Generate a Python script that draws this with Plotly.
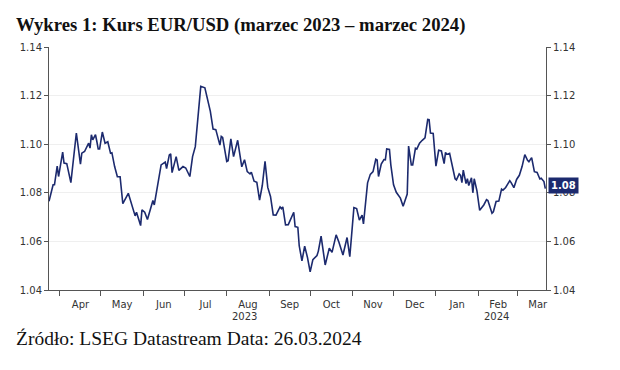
import plotly.graph_objects as go

title_text = "<b>Wykres 1: Kurs EUR/USD (marzec 2023 – marzec 2024)</b>"
source_text = "Źródło: LSEG Datastream Data: 26.03.2024"

dates = [
    "2023-03-24", "2023-03-25", "2023-03-27", "2023-03-28", "2023-03-30", "2023-03-31",
    "2023-04-03", "2023-04-04", "2023-04-06", "2023-04-09", "2023-04-13", "2023-04-16",
    "2023-04-17", "2023-04-19", "2023-04-22", "2023-04-23", "2023-04-24", "2023-04-25",
    "2023-04-27", "2023-04-28", "2023-04-29", "2023-04-30",
    "2023-05-02", "2023-05-04", "2023-05-06", "2023-05-08", "2023-05-09", "2023-05-11",
    "2023-05-13", "2023-05-15", "2023-05-17", "2023-05-21", "2023-05-23", "2023-05-26",
    "2023-05-27", "2023-05-30", "2023-05-31",
    "2023-06-02", "2023-06-04", "2023-06-08", "2023-06-09", "2023-06-14", "2023-06-17",
    "2023-06-18", "2023-06-20", "2023-06-21", "2023-06-22", "2023-06-25", "2023-06-27",
    "2023-06-30",
    "2023-07-02", "2023-07-05", "2023-07-07", "2023-07-09", "2023-07-13", "2023-07-15",
    "2023-07-16", "2023-07-20", "2023-07-22", "2023-07-24", "2023-07-27", "2023-07-28",
    "2023-07-29",
    "2023-08-01", "2023-08-02", "2023-08-04", "2023-08-06", "2023-08-09", "2023-08-12",
    "2023-08-14", "2023-08-16", "2023-08-18", "2023-08-19", "2023-08-21", "2023-08-23",
    "2023-08-25", "2023-08-27", "2023-08-29", "2023-08-31",
    "2023-09-02", "2023-09-04", "2023-09-06", "2023-09-09", "2023-09-10", "2023-09-11",
    "2023-09-13", "2023-09-15", "2023-09-19", "2023-09-20", "2023-09-22", "2023-09-23",
    "2023-09-25", "2023-09-27", "2023-09-29",
    "2023-10-01", "2023-10-03", "2023-10-06", "2023-10-07", "2023-10-09", "2023-10-12",
    "2023-10-15", "2023-10-17", "2023-10-20", "2023-10-22", "2023-10-25", "2023-10-28",
    "2023-10-30",
    "2023-11-02", "2023-11-04", "2023-11-06", "2023-11-08", "2023-11-09", "2023-11-12",
    "2023-11-14", "2023-11-16", "2023-11-18", "2023-11-19", "2023-11-20", "2023-11-22",
    "2023-11-24", "2023-11-25", "2023-11-26", "2023-11-28", "2023-11-29",
    "2023-12-01", "2023-12-03", "2023-12-06", "2023-12-08", "2023-12-10", "2023-12-11",
    "2023-12-12", "2023-12-14", "2023-12-15", "2023-12-17", "2023-12-18", "2023-12-20",
    "2023-12-22", "2023-12-24", "2023-12-26", "2023-12-27", "2023-12-28", "2023-12-30",
    "2024-01-01", "2024-01-03", "2024-01-05", "2024-01-07", "2024-01-08", "2024-01-09",
    "2024-01-11", "2024-01-13", "2024-01-15", "2024-01-16", "2024-01-18", "2024-01-19",
    "2024-01-20", "2024-01-21", "2024-01-23", "2024-01-24", "2024-01-25", "2024-01-27",
    "2024-01-28", "2024-01-29", "2024-01-31",
    "2024-02-02", "2024-02-05", "2024-02-07", "2024-02-08", "2024-02-11", "2024-02-12",
    "2024-02-14", "2024-02-16", "2024-02-18", "2024-02-19", "2024-02-21", "2024-02-24",
    "2024-02-25", "2024-02-27", "2024-02-29",
    "2024-03-02", "2024-03-04", "2024-03-06", "2024-03-08", "2024-03-09", "2024-03-11",
    "2024-03-13", "2024-03-15", "2024-03-17", "2024-03-18", "2024-03-20", "2024-03-21",
]

eurusd = [
    1.0765, 1.0790, 1.0833, 1.0833, 1.0910, 1.0867,
    1.0967, 1.0922, 1.0920, 1.0842, 1.1046, 1.0918,
    1.0963, 1.0970, 1.1004, 1.0984, 1.1039, 1.1018,
    1.1039, 1.1011, 1.0980, 1.0980,
    1.1050, 1.1004, 1.1010, 1.0963, 1.0965, 1.0908,
    1.0866, 1.0866, 1.0755, 1.0798, 1.0764, 1.0705,
    1.0720, 1.0665, 1.0730,
    1.0720, 1.0690, 1.0768, 1.0750, 1.0915, 1.0926,
    1.0900, 1.0956, 1.0960, 1.0883, 1.0949, 1.0892,
    1.0908,
    1.0902, 1.0867, 1.0949, 1.0990, 1.1238, 1.1235,
    1.1232, 1.1135, 1.1062, 1.1060, 1.0996, 1.1032,
    1.1028,
    1.0929, 1.0932, 1.1022, 1.0949, 1.1016, 1.0907,
    1.0936, 1.0887, 1.0878, 1.0885, 1.0848, 1.0843,
    1.0770, 1.0830, 1.0929, 1.0822,
    1.0785, 1.0709, 1.0708, 1.0742, 1.0735, 1.0742,
    1.0668, 1.0669, 1.0720, 1.0661, 1.0658, 1.0582,
    1.0520, 1.0580, 1.0535,
    1.0475, 1.0525, 1.0542, 1.0560, 1.0622, 1.0503,
    1.0572, 1.0555, 1.0627, 1.0598, 1.0544, 1.0616,
    1.0537,
    1.0739, 1.0735, 1.0688, 1.0708, 1.0672, 1.0841,
    1.0876, 1.0887, 1.0938, 1.0935, 1.0867, 1.0918,
    1.0937, 1.0936, 1.0980, 1.0978, 1.0915,
    1.0833, 1.0802, 1.0778, 1.0745, 1.0780, 1.0795,
    1.0992, 1.0915, 1.0915, 1.0983, 1.0980, 1.1004,
    1.1016, 1.1026, 1.1102, 1.1101, 1.1046, 1.1044,
    1.0910, 1.0975, 1.0972, 1.0920, 1.0966, 1.0958,
    1.0962, 1.0912, 1.0858, 1.0853, 1.0878, 1.0872,
    1.0842, 1.0893, 1.0838, 1.0858, 1.0830, 1.0862,
    1.0800, 1.0858, 1.0808,
    1.0728, 1.0750, 1.0772, 1.0768, 1.0716, 1.0722,
    1.0764, 1.0766, 1.0815, 1.0811, 1.0822, 1.0850,
    1.0842, 1.0821, 1.0855,
    1.0872, 1.0908, 1.0957, 1.0934, 1.0928, 1.0945,
    1.0887, 1.0884, 1.0857, 1.0860, 1.0846, 1.0817,
]
assert len(dates) == len(eurusd)

y_ticks = [1.04, 1.06, 1.08, 1.10, 1.12, 1.14]
x_range = ["2023-03-24", "2024-03-21 12:00"]
year_labels = ["2023", "2024"]
year_label_dates = ["2023-08-14", "2024-02-14"]

NAVY = "#1c2a6e"
AXIS = "#555555"
TICKFONT = dict(family="DejaVu Sans", size=10, color="#333333")

# the page body adds an 8px offset; the figure is sized to fit inside the window
W, H = 604, 354
PL, PR, PT, PB = 41, 538, 39, 282  # plot-area edges in figure pixels
PW = PR - PL

fig = go.Figure()
fig.add_trace(go.Scatter(
    x=dates, y=eurusd, mode="lines",
    line=dict(color=NAVY, width=1.6), showlegend=False, hoverinfo="skip",
))
# invisible helper trace so the right-hand axis is drawn
fig.add_trace(go.Scatter(
    x=[dates[0]], y=[eurusd[0]], yaxis="y2", mode="markers",
    marker=dict(opacity=0), showlegend=False, hoverinfo="skip",
))

yaxis_common = dict(
    range=[y_ticks[0], y_ticks[-1]], tickvals=y_ticks, tickformat=".2f",
    ticks="outside", ticklen=4, tickcolor=AXIS, tickwidth=1,
    showline=True, linecolor=AXIS, linewidth=1,
    tickfont=TICKFONT, zeroline=False,
)

fig.update_layout(
    width=W, height=H,
    paper_bgcolor="white", plot_bgcolor="white",
    margin=dict(l=PL, r=W - PR, t=PT, b=H - PB),
    xaxis=dict(
        range=x_range, type="date",
        dtick="M1", tick0="2023-04-01", tickformat="%b", ticklabelmode="period",
        ticks="outside", ticklen=5, tickcolor=AXIS,
        showline=True, linecolor=AXIS, linewidth=1,
        showgrid=False, tickfont=TICKFONT, zeroline=False,
    ),
    yaxis=dict(
        side="left", showgrid=True, gridcolor="#efefef", gridwidth=1,
        **yaxis_common,
    ),
    yaxis2=dict(
        side="right", overlaying="y", showgrid=False,
        **yaxis_common,
    ),
    showlegend=False,
)

fig.add_annotation(
    text=title_text, xref="paper", yref="paper", x=(6 - PL) / PW, y=1.0,
    xanchor="left", yanchor="bottom", yshift=9, showarrow=False,
    font=dict(family="Liberation Serif", size=18.7, color="#111111"),
)
fig.add_annotation(
    text=source_text, xref="paper", yref="paper", x=(6 - PL) / PW, y=0,
    xanchor="left", yanchor="top", yshift=-36, showarrow=False,
    font=dict(family="Liberation Serif", size=19.5, color="#111111"),
)
for lbl, d in zip(year_labels, year_label_dates):
    fig.add_annotation(
        text=lbl, xref="x", yref="paper", x=d, y=0, yanchor="top", yshift=-19,
        showarrow=False, font=TICKFONT,
    )
fig.add_annotation(
    text=f"<b>{eurusd[-1]:.2f}</b>", xref="paper", yref="y", x=1, y=eurusd[-1],
    xanchor="left", xshift=2, yshift=3, showarrow=False, bgcolor=NAVY,
    borderpad=2, font=dict(family="DejaVu Sans", size=10, color="white"),
)

fig.write_html("out.html")
